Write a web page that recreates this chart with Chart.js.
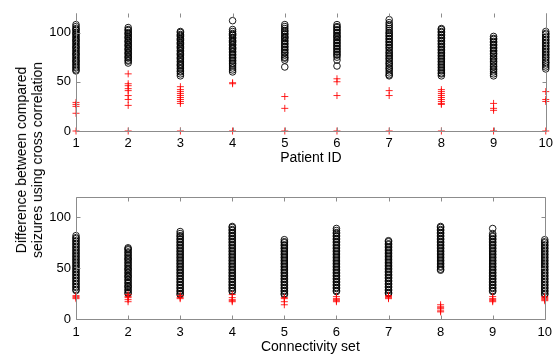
<!DOCTYPE html>
<html>
<head>
<meta charset="utf-8">
<script src="https://cdn.jsdelivr.net/npm/chart.js@4.4.0/dist/chart.umd.min.js"></script>
<style>
    body { margin: 0; background: #fff; width: 558px; height: 358px; overflow: hidden; position: relative; font-family: "Liberation Sans", Arial, sans-serif; }
    #topChart { position: absolute; left: 0; top: 0; }
    #bottomChart { position: absolute; left: 0; top: 175px; }
    #ylabel { position: absolute; left: 29px; top: 160px; transform: translate(-50%, -50%) rotate(-90deg);
              text-align: center; font-size: 14px; line-height: 16px; white-space: nowrap; color: #000; }
</style>
</head>
<body>
<canvas id="topChart" width="558" height="175"></canvas>
<canvas id="bottomChart" width="558" height="183"></canvas>
<div id="ylabel">Difference between compared<br>seizures using cross correlation</div>
<script>
// categories
var patientIds = [1, 2, 3, 4, 5, 6, 7, 8, 9, 10];
var connSets = [1, 2, 3, 4, 5, 6, 7, 8, 9, 10];
var yTicks = [0, 50, 100];

// Patient ID - per-seizure differences (circles)
var patientScores = [
    [61,62,64,65,67,68,70,71,72,74,75,77,78,79,81,82,84,85,86,88,89,91,92,93,95,96,98,99,100,102,103,104,106,108],
    [69,71,72,74,75,76,78,79,80,82,83,84,86,87,88,90,91,92,94,95,96,98,99,100,102,103,105],
    [56,58,60,61,63,64,66,67,68,70,71,73,74,75,77,78,79,81,82,84,85,86,88,89,90,92,93,94,96,97,98,100,101],
    [60,62,64,66,68,69,71,72,74,75,77,78,80,81,83,84,85,87,88,90,91,92,94,95,97,98,99,101,103,112],
    [65,72,74,75,77,79,80,82,83,85,86,88,89,91,92,94,95,96,98,99,101,102,104,106,108],
    [66,72,75,77,78,80,81,83,84,86,87,89,90,92,93,95,96,97,99,100,102,103,105,106,108],
    [56,57,59,61,63,64,66,68,69,71,73,74,76,77,79,80,82,84,85,87,88,90,91,93,94,96,97,99,100,102,104,106,108,110,113],
    [56,58,59,61,62,64,65,67,68,70,71,73,74,76,77,79,80,82,83,85,86,88,89,91,92,94,95,97,98,100,101,103,104],
    [56,58,60,62,63,65,66,68,70,71,73,74,76,78,79,81,82,84,85,87,88,90,91,93,94,96],
    [63,65,67,69,70,72,74,75,77,78,80,81,83,84,86,87,89,90,92,93,95,96,98,99,101]
];
// Patient ID - outliers (red +)
var patientOutliers = [
    [29,27,25,18,0],
    [58,48,46,43,41,36,32,26,0],
    [45,42,40,38,36,34,32,30,28,0],
    [49,48,0],
    [35,23,0],
    [53,50,36,0],
    [41,36,0],
    [42,40,38,36,34,32,30,28,27,0],
    [28,23,21,0],
    [40,32,30,0]
];

// Connectivity set - per-seizure differences (circles)
var connScores = [
    [28,29,31,32,34,35,37,38,40,41,43,44,46,47,49,50,52,53,55,56,58,59,61,62,64,65,67,68,70,71,73,74,76,77,79,80,82],
    [25,26,28,29,31,32,33,35,36,38,39,41,42,43,45,46,48,49,50,52,53,55,56,58,59,60,62,63,65,66,68,69,70],
    [24,25,27,28,30,31,33,34,36,37,39,40,42,43,45,46,48,49,51,52,54,55,57,58,60,61,63,64,66,67,69,70,72,73,75,76,78,79,81,82,84,86],
    [27,28,30,31,33,34,36,37,39,40,42,43,45,46,48,49,51,52,54,55,57,58,60,61,63,64,66,67,69,70,72,73,75,76,78,79,81,82,84,85,87,88,90,91],
    [24,25,27,28,30,31,33,34,36,37,39,40,42,43,45,46,48,49,51,52,54,55,57,58,60,61,63,64,66,67,69,70,72,73,75,76,78],
    [27,28,30,31,33,34,36,37,39,40,42,43,45,46,48,49,51,52,54,55,57,58,60,61,63,64,66,67,69,70,72,73,75,76,78,79,81,82,84,85,87,89],
    [25,26,28,29,31,32,34,35,37,38,40,41,43,44,46,47,49,50,52,53,55,56,58,59,61,62,64,65,67,68,70,71,73,74,76,77],
    [48,49,51,52,54,55,57,58,60,61,63,64,66,67,69,70,72,73,75,76,78,79,81,82,84,85,87,88,90,91],
    [27,28,30,31,33,34,36,37,39,40,42,43,45,46,48,49,51,52,54,55,57,58,60,61,63,64,66,67,69,70,72,73,75,76,78,79,81,82,84,89],
    [24,25,27,28,30,31,33,34,36,37,39,40,42,43,45,46,48,49,51,52,54,55,57,58,60,61,63,64,66,67,69,70,72,73,75,76,78]
];
// Connectivity set - outliers (red +)
var connOutliers = [
    [23,22,21,20],
    [24,22,21,19,17],
    [23,21,20],
    [24,21,19,18,17],
    [21,20,17,14],
    [22,20,19,18,17],
    [23,22,21,20],
    [14,12,11,10,8,7],
    [22,20,19,18,17],
    [22,21,20,19,18]
];

Chart.defaults.font.family = '"Liberation Sans", Arial, sans-serif';
Chart.defaults.font.size = 13;
Chart.defaults.color = '#000';

function toPoints(ids, groups) {
    var pts = [];
    groups.forEach(function(vals, i) {
        vals.forEach(function(v) { pts.push({ x: ids[i], y: v }); });
    });
    return pts;
}

// MATLAB-like axes: grey box with inward ticks
function drawAxesBox(chart, topLine) {
    var ctx = chart.ctx, a = chart.chartArea;
    var xs = chart.scales.x, ys = chart.scales.y, tl = 4;
    var L = Math.round(a.left) + 0.5, R = Math.round(a.right) + 0.5;
    var T = Math.round(a.top) + 0.5, B = Math.round(a.bottom) + 0.5;
    ctx.save();
    ctx.strokeStyle = '#8c8c8c';
    ctx.lineWidth = 1;
    ctx.beginPath();
    ctx.moveTo(L, T);
    ctx.lineTo(L, B);
    ctx.lineTo(R, B);
    ctx.lineTo(R, T);
    if (topLine) ctx.lineTo(L, T);
    xs.ticks.forEach(function(t) {
        var px = Math.round(xs.getPixelForValue(t.value)) + 0.5;
        ctx.moveTo(px, B); ctx.lineTo(px, B - tl);
        ctx.moveTo(px, T); ctx.lineTo(px, T + tl);
    });
    ys.ticks.forEach(function(t) {
        var py = Math.round(ys.getPixelForValue(t.value)) + 0.5;
        ctx.moveTo(L, py); ctx.lineTo(L + tl, py);
        ctx.moveTo(R, py); ctx.lineTo(R - tl, py);
    });
    ctx.stroke();
    ctx.restore();
}

function makeChart(id, ids, scores, outliers, title, pad, xHeight, tickPad, titlePad, topLine) {
    var ctx = document.getElementById(id).getContext('2d');
    return new Chart(ctx, {
        type: 'scatter',
        data: {
            datasets: [{
                data: toPoints(ids, outliers),
                pointStyle: 'cross',
                radius: 3.5,
                borderColor: 'rgba(255, 0, 0, 0.85)',
                borderWidth: 1,
                clip: false
            }, {
                data: toPoints(ids, scores),
                pointStyle: 'circle',
                radius: 3.3,
                backgroundColor: 'rgba(0, 0, 0, 0)',
                borderColor: '#000',
                borderWidth: 0.9,
                clip: false
            }]
        },
        options: {
            responsive: false,
            animation: false,
            layout: { padding: pad },
            plugins: {
                legend: { display: false },
                tooltip: { enabled: false }
            },
            scales: {
                x: {
                    type: 'linear', min: 1, max: 10,
                    grid: { display: false, drawTicks: false },
                    border: { display: false },
                    ticks: { padding: tickPad, maxRotation: 0 },
                    afterBuildTicks: function(s) { s.ticks = ids.map(function(v) { return { value: v }; }); },
                    afterFit: function(s) { s.height = xHeight; },
                    title: { display: true, text: title, padding: { top: 0, bottom: titlePad }, font: { size: 14 } }
                },
                y: {
                    min: 0, max: 120,
                    grid: { display: false, drawTicks: false },
                    border: { display: false },
                    ticks: { padding: 5 },
                    afterBuildTicks: function(s) { s.ticks = yTicks.map(function(v) { return { value: v }; }); },
                    afterFit: function(s) { s.width = 76; }
                }
            }
        },
        plugins: [{
            id: 'axesBox',
            afterDraw: function(chart) { drawAxesBox(chart, topLine); }
        }]
    });
}

makeChart('topChart', patientIds, patientScores, patientOutliers, 'Patient ID',
    { left: 0, right: 12, top: 8, bottom: 0 }, 44, 5, 8, false);
makeChart('bottomChart', connSets, connScores, connOutliers, 'Connectivity set',
    { left: 0, right: 12, top: 22, bottom: 0 }, 39, 6, 2, true);
</script>
</body>
</html>
